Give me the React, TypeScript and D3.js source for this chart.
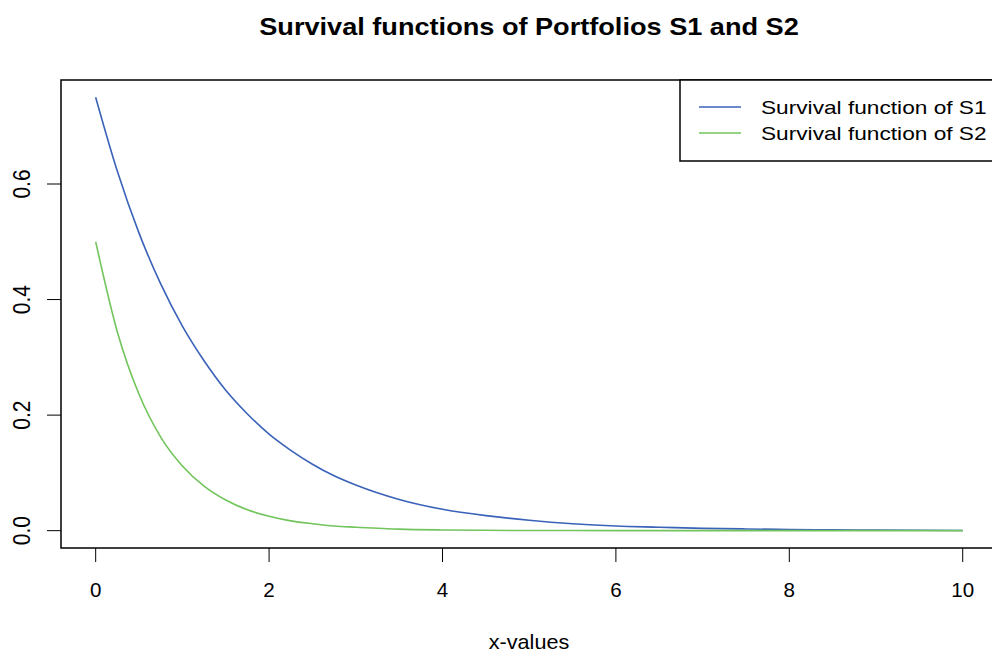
import React from "react";
import * as d3 from "d3";

const TITLE = "Survival functions of Portfolios S1 and S2";
const X_LABEL = "x-values";
const xValues = [0, 0.25, 0.5, 0.75, 1, 1.25, 1.5, 1.75, 2, 2.25, 2.5, 2.75, 3, 3.5, 4, 4.5, 5, 5.5, 6, 6.5, 7, 7.5, 8, 8.5, 9, 9.5, 10];
const s1Values = [0.75, 0.622, 0.515, 0.427, 0.354, 0.294, 0.243, 0.202, 0.167, 0.139, 0.115, 0.095, 0.079, 0.054, 0.037, 0.026, 0.018, 0.012, 0.008, 0.006, 0.004, 0.003, 0.002, 0.0013, 0.0009, 0.0006, 0.0004];
const s2Values = [0.5, 0.344, 0.236, 0.162, 0.112, 0.077, 0.053, 0.036, 0.025, 0.017, 0.012, 0.008, 0.006, 0.0026, 0.0012, 0.0006, 0.0003, 0.0002, 0.0001, 0.0001, 0, 0, 0, 0, 0, 0, 0];
const xTicks = [0, 2, 4, 6, 8, 10];
const yTicks = [0, 0.2, 0.4, 0.6];
const seriesNames = ["Survival function of S1", "Survival function of S2"];
const seriesColors = ["#3a62b8", "#72c45c"];

const W = 992;
const H = 655;
const FONT = "'Liberation Sans', Arial, Helvetica, sans-serif";

export default function App() {
  const x = d3.scaleLinear().domain([-0.4, 10.4]).range([61, 997.4]);
  const y = d3.scaleLinear().domain([-0.03, 0.78]).range([548, 80]);
  const line = d3
    .line<number>()
    .x((_, i) => x(xValues[i]))
    .y((d) => y(d))
    .curve(d3.curveMonotoneX);
  const series = [s1Values, s2Values];
  const left = x(-0.4);
  const right = x(10.4);
  const top = y(0.78);
  const bottom = y(-0.03);
  const legX = 680;
  const legY = 80;
  const legH = 81;

  return (
    <svg
      width={W}
      height={H}
      style={{ position: "absolute", left: 0, top: 0, background: "#fff" }}
      fontFamily={FONT}
    >
      <rect x={0} y={0} width={W} height={H} fill="#fff" />
      <text
        transform={`translate(${529},${35}) scale(1.18,1)`}
        textAnchor="middle"
        fontWeight="bold"
        fontSize={23}
      >
        {TITLE}
      </text>
      {series.map((s, i) => (
        <path key={i} d={line(s) || ""} fill="none" stroke={seriesColors[i]} strokeWidth={1.6} />
      ))}
      <rect x={left} y={top} width={right - left} height={bottom - top} fill="none" stroke="#000" strokeWidth={1.5} />
      {xTicks.map((t) => (
        <g key={t}>
          <line x1={x(t)} x2={x(t)} y1={bottom} y2={bottom + 14} stroke="#000" strokeWidth={1} />
          <text transform={`translate(${x(t)},${597}) scale(0.98,1)`} textAnchor="middle" fontSize={21}>
            {t}
          </text>
        </g>
      ))}
      {yTicks.map((t) => (
        <g key={t}>
          <line x1={left} x2={left - 14} y1={y(t)} y2={y(t)} stroke="#000" strokeWidth={1} />
          <text
            transform={`translate(${30},${y(t)}) scale(1.12,1) rotate(-90)`}
            textAnchor="middle"
            fontSize={21}
          >
            {t.toFixed(1)}
          </text>
        </g>
      ))}
      <text transform={`translate(${529},${649}) scale(1.08,1)`} textAnchor="middle" fontSize={20}>
        {X_LABEL}
      </text>
      <rect x={legX} y={legY} width={right - legX} height={legH} fill="#fff" stroke="#000" strokeWidth={1.5} />
      {seriesNames.map((n, i) => (
        <g key={n}>
          <line x1={699} x2={741} y1={legY + 27 + i * 26} y2={legY + 27 + i * 26} stroke={seriesColors[i]} strokeWidth={1.5} />
          <text
            transform={`translate(${761},${legY + 27 + i * 26 + 6.5}) scale(1.26,1)`}
            fontSize={18}
          >
            {n}
          </text>
        </g>
      ))}
    </svg>
  );
}
